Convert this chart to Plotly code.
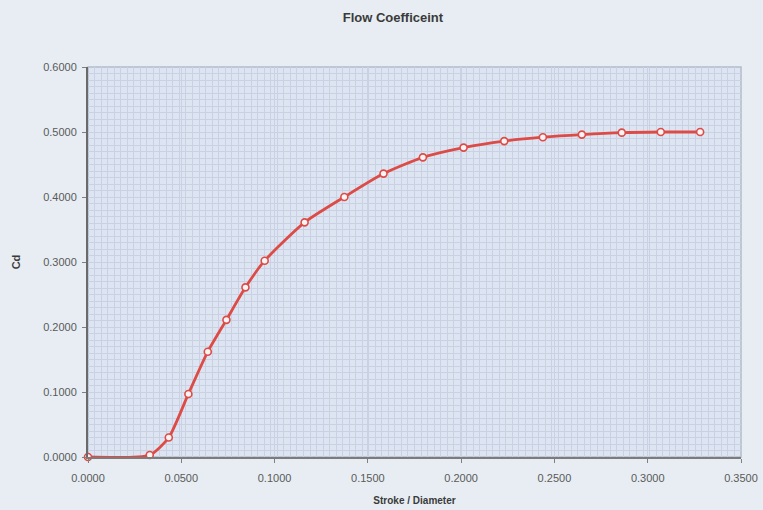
import plotly.graph_objects as go

# Stroke / Diameter ratio and discharge coefficient
stroke_ratio = [0.0000, 0.0331, 0.0433, 0.0538, 0.0642, 0.0742, 0.0844, 0.0947,
                0.1161, 0.1374, 0.1584, 0.1795, 0.2013, 0.2231, 0.2438, 0.2647,
                0.2861, 0.3070, 0.3281]
cd = [0.0000, 0.0030, 0.0300, 0.0970, 0.1620, 0.2110, 0.2610, 0.3020,
      0.3610, 0.4000, 0.4360, 0.4610, 0.4760, 0.4860, 0.4920, 0.4960,
      0.4990, 0.5000, 0.5000]

x_ticks = [0.0, 0.05, 0.10, 0.15, 0.20, 0.25, 0.30, 0.35]
y_ticks = [0.0, 0.1, 0.2, 0.3, 0.4, 0.5, 0.6]

FONT = "Liberation Sans, Arial, sans-serif"
PAGE_BG = "#e7edf2"
PLOT_BG = "#dee5f2"
GRID = "#cad1e2"

fig = go.Figure()
fig.add_trace(go.Scatter(
    x=stroke_ratio, y=cd,
    mode="lines+markers",
    line=dict(color="#dd4b47", width=2.8, shape="spline", smoothing=0.6),
    marker=dict(symbol="circle", size=7, color="#fbf4f4",
                line=dict(color="#dd4b47", width=1.6)),
    cliponaxis=False,
    showlegend=False,
))

# light frame around the plot area
fig.add_shape(type="rect", xref="paper", yref="paper", x0=0, y0=0, x1=1, y1=1,
              line=dict(color="#b3bccb", width=1.5), layer="below")

fig.update_layout(
    width=763, height=510,
    margin=dict(l=88, r=22, t=67, b=53),
    paper_bgcolor=PAGE_BG,
    plot_bgcolor=PLOT_BG,
    title=dict(text="<b>Flow Coefficeint</b>", x=0.515, xanchor="center",
               y=0.966, yanchor="middle",
               font=dict(family=FONT, size=13, color="#3a3a3a")),
    font=dict(family=FONT, color="#555555"),
)

fig.update_xaxes(
    range=[0, 0.35], tickvals=x_ticks, tickformat=".4f",
    tickfont=dict(size=11, color="#5a5a5a"),
    ticks="outside", ticklen=4, tickcolor="#808080",
    ticklabelstandoff=6, automargin=False,
    showline=True, linecolor="#7c7c7c", linewidth=2,
    showgrid=True, gridcolor=GRID, gridwidth=1,
    minor=dict(dtick=0.0035, showgrid=True, gridcolor=GRID, gridwidth=1),
    zeroline=False,
    title=dict(text="<b>Stroke / Diameter</b>", standoff=14,
               font=dict(family=FONT, size=10, color="#3a3a3a")),
)
fig.update_yaxes(
    range=[0, 0.6], tickvals=y_ticks, tickformat=".4f",
    tickfont=dict(size=11, color="#5a5a5a"),
    ticks="outside", ticklen=4, tickcolor="#808080",
    ticklabelstandoff=3, automargin=False,
    showline=True, linecolor="#6a6a6a", linewidth=2,
    showgrid=True, gridcolor=GRID, gridwidth=1,
    minor=dict(dtick=0.01, showgrid=True, gridcolor=GRID, gridwidth=1),
    zeroline=False,
    title=dict(text="<b>Cd</b>", standoff=20,
               font=dict(family=FONT, size=11, color="#3a3a3a")),
)

fig.write_html("out.html")
